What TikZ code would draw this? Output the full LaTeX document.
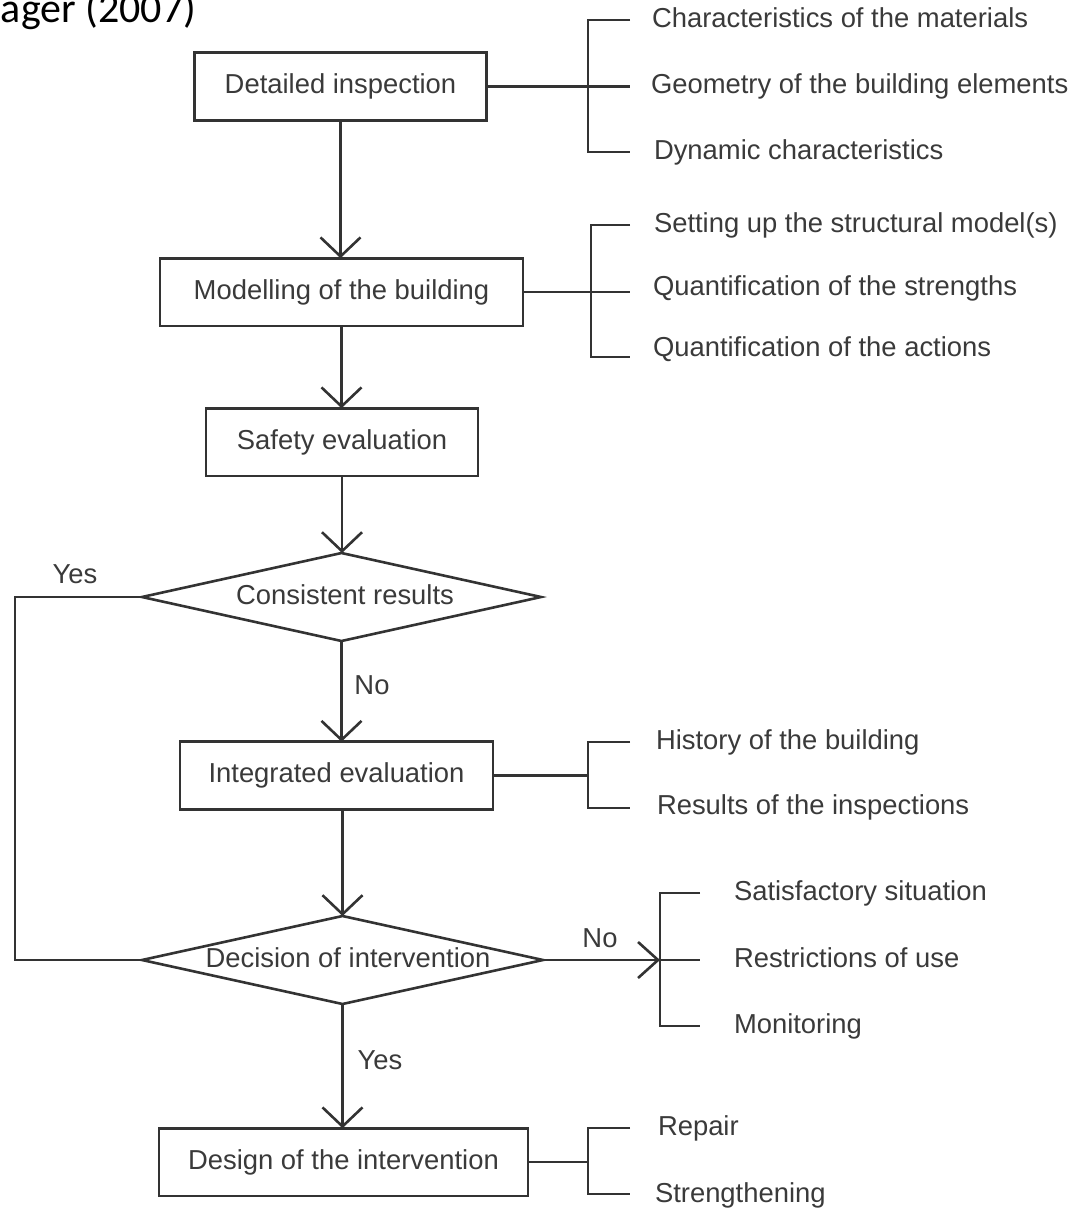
\documentclass[tikz,border=0pt]{standalone}
\usepackage{fontspec}
\setmainfont{Liberation Sans}
\newfontfamily\calib{Carlito}
\usetikzlibrary{arrows.meta,shapes.geometric}
\definecolor{lncol}{HTML}{333333}
\definecolor{txcol}{HTML}{3A3A3A}
\begin{document}
\begin{tikzpicture}[x=0.5pt,y=-0.5pt,
  every node/.style={outer sep=0pt, text=txcol, font=\fontsize{13.7}{16}\selectfont, text height=0.72em, text depth=0pt},
  box/.style={draw=lncol, line width=1.3pt, minimum height=33.8pt, inner sep=0pt},
  dia/.style={diamond, draw=lncol, line width=1.3pt, inner sep=0pt, minimum height=44pt},
  lbl/.style={anchor=west, inner sep=0pt},
  wire/.style={draw=lncol, line width=1.3pt, line join=miter},
  arr/.style={wire, -{Straight Barb[length=9.5pt,width=20pt]}}
]
\useasboundingbox (0,0) rectangle (1079,1212);

% reference caption fragment
\node[font=\calib\fontsize{21}{25}\selectfont, text=black, anchor=base west, inner sep=0pt] (ref) at (1,22) {ager (2007)};

% main flow
\node[box, minimum width=146pt] (b1) at (340.5,86.5) {Detailed inspection};
\node[box, minimum width=181.5pt] (b2) at (341.5,292) {Modelling of the building};
\node[box, minimum width=136pt] (b3) at (342,442) {Safety evaluation};
\node[dia, minimum width=199.5pt] (d1) at (341.5,597) {};
\node (d1t) at (345,597) {Consistent results};
\node[box, minimum width=156.5pt] (b4) at (336.5,775.5) {Integrated evaluation};
\node[dia, minimum width=200.5pt] (d2) at (342.5,960) {};
\node (d2t) at (348,960) {Decision of intervention};
\node[box, minimum width=184.5pt] (b7) at (343.5,1162) {Design of the intervention};

\draw[arr] (b1.south) -- (b1.south |- b2.north);
\draw[arr] (b2.south) -- (b2.south |- b3.north);
\draw[arr] (b3.south) -- (b3.south |- d1.north);
\draw[arr] (d1.south) -- (d1.south |- b4.north);
\draw[wire] (b4.south -| d2.north) -- (b4.south -| d2.north);
\draw[arr] (d2.north |- b4.south) -- (d2.north);
\draw[arr] (d2.south) -- (d2.south |- b7.north);

\node (yes1) at (75,576) {Yes};
\node (no1) at (372,687) {No};
\node (no2) at (600,940) {No};
\node (yes2) at (380,1062) {Yes};

% Yes loop
\coordinate (lp1) at (15,597);
\coordinate (lp2) at (15,960);
\draw[wire] (d1.west) -- (lp1) -- (lp2) -- (d2.west);

% bracket 1
\coordinate (s1t) at (588,20); \coordinate (s1b) at (588,152);
\coordinate (e1t) at (630,20); \coordinate (e1m) at (630,86.5); \coordinate (e1b) at (630,152);
\draw[wire] (b1.east) -- (e1m);
\draw[wire] (e1t) -- (s1t) -- (s1b) -- (e1b);
\node[lbl] (t11) at (652,20) {Characteristics of the materials};
\node[lbl] (t12) at (651,86) {Geometry of the building elements};
\node[lbl] (t13) at (654,152) {Dynamic characteristics};

% bracket 2
\coordinate (s2t) at (591,225); \coordinate (s2b) at (591,357);
\coordinate (e2t) at (630,225); \coordinate (e2m) at (630,292); \coordinate (e2b) at (630,357);
\draw[wire] (b2.east) -- (e2m);
\draw[wire] (e2t) -- (s2t) -- (s2b) -- (e2b);
\node[lbl] (t21) at (654,225) {Setting up the structural model(s)};
\node[lbl] (t22) at (653,288) {Quantification of the strengths};
\node[lbl] (t23) at (653,349) {Quantification of the actions};

% bracket 4
\coordinate (s4t) at (588,742); \coordinate (s4b) at (588,808);
\coordinate (e4t) at (630,742); \coordinate (e4b) at (630,808);
\draw[wire] (b4.east) -- (b4.east -| s4t);
\draw[wire] (e4t) -- (s4t) -- (s4b) -- (e4b);
\node[lbl] (t41) at (656,742) {History of the building};
\node[lbl] (t42) at (657,807) {Results of the inspections};

% bracket 6 (No branch)
\coordinate (s6t) at (660,893); \coordinate (s6m) at (660,960); \coordinate (s6b) at (660,1026);
\coordinate (e6t) at (700,893); \coordinate (e6m) at (700,960); \coordinate (e6b) at (700,1026);
\draw[wire, -{Straight Barb[length=10pt,width=18pt]}] (d2.east) -- (s6m);
\draw[wire] (s6m) -- (e6m);
\draw[wire] (e6t) -- (s6t) -- (s6b) -- (e6b);
\node[lbl] (t61) at (734,893) {Satisfactory situation};
\node[lbl] (t62) at (734,960) {Restrictions of use};
\node[lbl] (t63) at (734,1026) {Monitoring};

% bracket 7
\coordinate (s7t) at (588,1128); \coordinate (s7b) at (588,1194);
\coordinate (e7t) at (630,1128); \coordinate (e7b) at (630,1194);
\draw[wire] (b7.east) -- (b7.east -| s7t);
\draw[wire] (e7t) -- (s7t) -- (s7b) -- (e7b);
\node[lbl] (t71) at (658,1128) {Repair};
\node[lbl] (t72) at (655,1195) {Strengthening};
\end{tikzpicture}
\end{document}
